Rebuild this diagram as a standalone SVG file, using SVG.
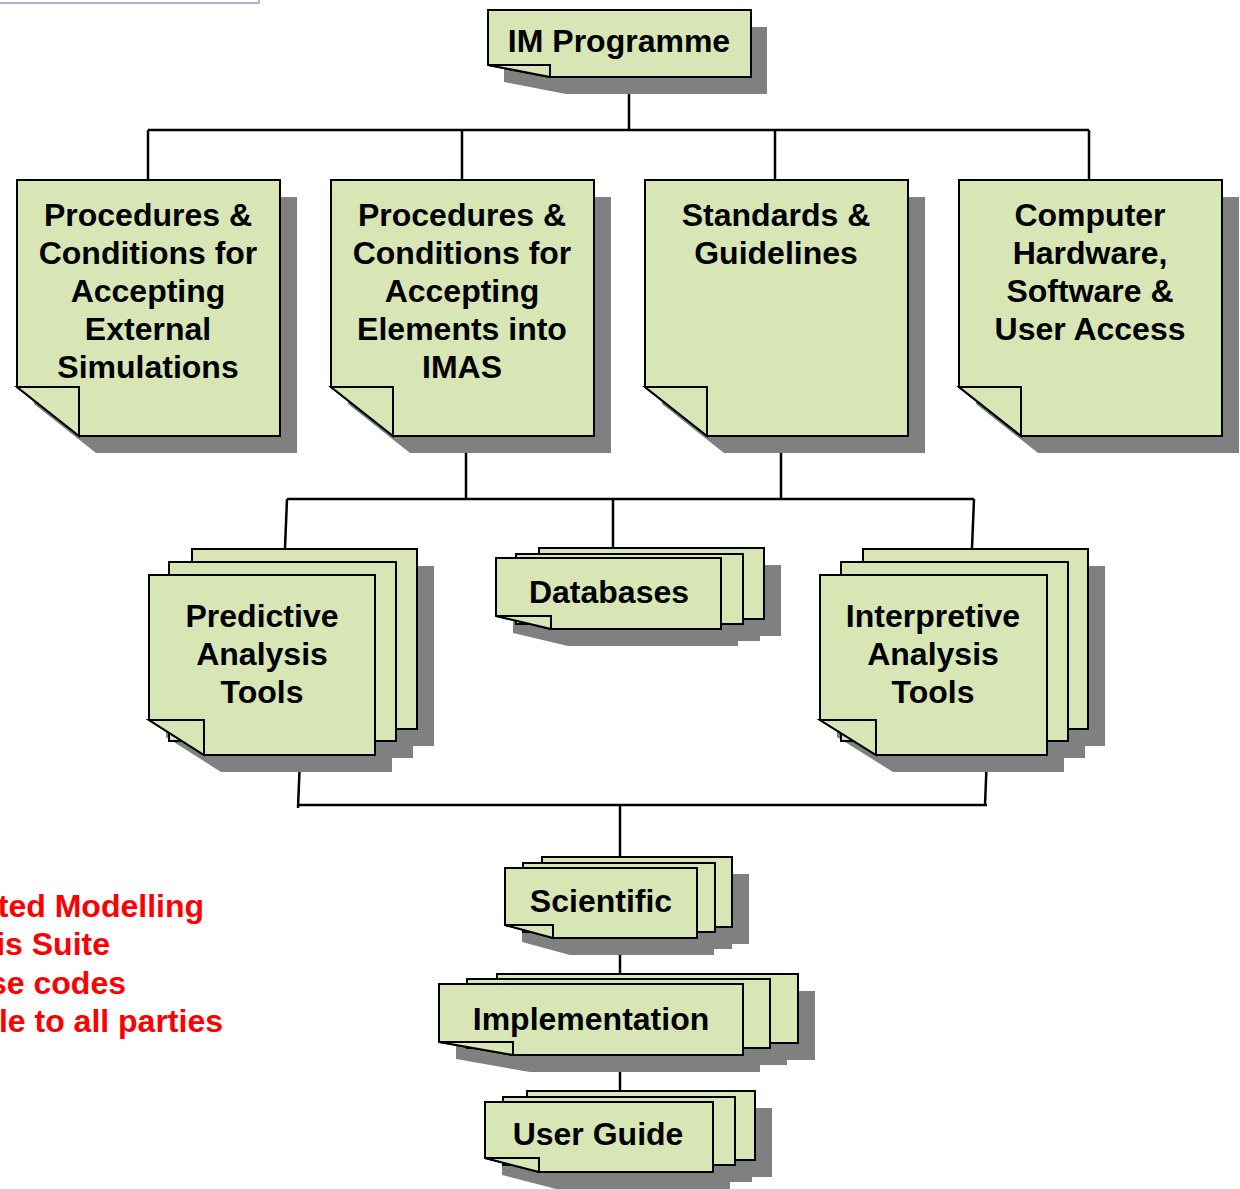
<svg xmlns="http://www.w3.org/2000/svg" width="1240" height="1189" viewBox="0 0 1240 1189">
<style>
.pg{fill:#D8E6B6;stroke:#000;stroke-width:2;stroke-linejoin:miter}
.sh{fill:#808080;stroke:none}
.cn{fill:none;stroke:#000;stroke-width:2.5}
.t{font-family:"Liberation Sans",Arial,sans-serif;font-weight:bold;font-size:32px;fill:#000;text-anchor:middle}
.r{font-family:"Liberation Sans",Arial,sans-serif;font-weight:bold;font-size:32px;fill:#FF0000;text-anchor:end}
</style>
<rect x="-3" y="-20" width="262" height="23" fill="#fff" stroke="#AEB4D2" stroke-width="2"/>
<g id="connectors">
<path class="cn" d="M629,77 V130 M148,130 H1089 M148,130 V180 M462,130 V180 M775,130 V180 M1089,130 V180"/>
<path class="cn" d="M466,436 V499 M781,436 V499 M287,499 H974 M287,499 L285,548 M613,499 V548 M974,499 L972,548"/>
<path class="cn" d="M300,758 L298,808 M298,805 H987 M987,755 L985,805 M620,805 V857"/>
<path class="cn" d="M620,938 V974 M620,1055 V1091"/>
</g>
<g id="im-programme">
<path class="sh" transform="translate(16,17)" d="M488,10 H751 V77 H550 L488,65 Z"/>
<path class="pg" d="M488,10 H751 V77 H550 L488,65 Z"/>
<path class="pg" d="M488,65 H550 V77 Z"/>
<text class="t" x="619" y="52">IM Programme</text>
</g>
<g id="proc-external">
<path class="sh" transform="translate(17,17)" d="M17,180 H280 V436 H79 L17,387 Z"/>
<path class="pg" d="M17,180 H280 V436 H79 L17,387 Z"/>
<path class="pg" d="M17,387 H79 V436 Z"/>
<text class="t" x="148" y="226">Procedures &amp;</text>
<text class="t" x="148" y="264">Conditions for</text>
<text class="t" x="148" y="302">Accepting</text>
<text class="t" x="148" y="340">External</text>
<text class="t" x="148" y="378">Simulations</text>
</g>
<g id="proc-imas">
<path class="sh" transform="translate(17,17)" d="M331,180 H594 V436 H393 L331,387 Z"/>
<path class="pg" d="M331,180 H594 V436 H393 L331,387 Z"/>
<path class="pg" d="M331,387 H393 V436 Z"/>
<text class="t" x="462" y="226">Procedures &amp;</text>
<text class="t" x="462" y="264">Conditions for</text>
<text class="t" x="462" y="302">Accepting</text>
<text class="t" x="462" y="340">Elements into</text>
<text class="t" x="462" y="378">IMAS</text>
</g>
<g id="standards">
<path class="sh" transform="translate(17,17)" d="M645,180 H908 V436 H707 L645,387 Z"/>
<path class="pg" d="M645,180 H908 V436 H707 L645,387 Z"/>
<path class="pg" d="M645,387 H707 V436 Z"/>
<text class="t" x="776" y="226">Standards &amp;</text>
<text class="t" x="776" y="264">Guidelines</text>
</g>
<g id="computer">
<path class="sh" transform="translate(17,17)" d="M959,180 H1222 V436 H1021 L959,387 Z"/>
<path class="pg" d="M959,180 H1222 V436 H1021 L959,387 Z"/>
<path class="pg" d="M959,387 H1021 V436 Z"/>
<text class="t" x="1090" y="226">Computer</text>
<text class="t" x="1090" y="264">Hardware,</text>
<text class="t" x="1090" y="302">Software &amp;</text>
<text class="t" x="1090" y="340">User Access</text>
</g>
<g id="predictive">
<g class="sh" transform="translate(17,17)">
<path d="M192,549 H417 V729 H247 L192,694 Z"/>
<path d="M169,562 H396 V741 H224 L169,706 Z"/>
<path d="M149,575 H375 V755 H204 L149,720 Z"/>
</g>
<rect class="pg" x="192" y="549" width="225" height="180"/>
<rect class="pg" x="169" y="562" width="227" height="179"/>
<path class="pg" d="M149,575 H375 V755 H204 L149,720 Z"/>
<path class="pg" d="M149,720 H204 V755 Z"/>
<text class="t" x="262" y="627">Predictive</text>
<text class="t" x="262" y="665">Analysis</text>
<text class="t" x="262" y="703">Tools</text>
</g>
<g id="databases">
<g class="sh" transform="translate(17,17)">
<path d="M539,548 H764 V619 H594 L539,606 Z"/>
<path d="M516,554 H743 V624 H571 L516,611 Z"/>
<path d="M496,558 H721 V629 H551 L496,616 Z"/>
</g>
<rect class="pg" x="539" y="548" width="225" height="71"/>
<rect class="pg" x="516" y="554" width="227" height="70"/>
<path class="pg" d="M496,558 H721 V629 H551 L496,616 Z"/>
<path class="pg" d="M496,616 H551 V629 Z"/>
<text class="t" x="609" y="603">Databases</text>
</g>
<g id="interpretive">
<g class="sh" transform="translate(17,17)">
<path d="M863,549 H1088 V729 H919 L863,694 Z"/>
<path d="M841,562 H1068 V741 H897 L841,706 Z"/>
<path d="M820,575 H1047 V755 H876 L820,720 Z"/>
</g>
<rect class="pg" x="863" y="549" width="225" height="180"/>
<rect class="pg" x="841" y="562" width="227" height="179"/>
<path class="pg" d="M820,575 H1047 V755 H876 L820,720 Z"/>
<path class="pg" d="M820,720 H876 V755 Z"/>
<text class="t" x="933" y="627">Interpretive</text>
<text class="t" x="933" y="665">Analysis</text>
<text class="t" x="933" y="703">Tools</text>
</g>
<g id="scientific">
<g class="sh" transform="translate(17,17)">
<path d="M542,857 H732 V927 H590 L542,914 Z"/>
<path d="M523,863 H715 V932 H571 L523,919 Z"/>
<path d="M505,868 H697 V938 H553 L505,925 Z"/>
</g>
<rect class="pg" x="542" y="857" width="190" height="70"/>
<rect class="pg" x="523" y="863" width="192" height="69"/>
<path class="pg" d="M505,868 H697 V938 H553 L505,925 Z"/>
<path class="pg" d="M505,925 H553 V938 Z"/>
<text class="t" x="601" y="912">Scientific</text>
</g>
<g id="implementation">
<g class="sh" transform="translate(17,17)">
<path d="M497,974 H798 V1043 H571 L497,1030 Z"/>
<path d="M467,979 H770 V1048 H541 L467,1035 Z"/>
<path d="M439,984 H743 V1055 H513 L439,1042 Z"/>
</g>
<rect class="pg" x="497" y="974" width="301" height="69"/>
<rect class="pg" x="467" y="979" width="303" height="69"/>
<path class="pg" d="M439,984 H743 V1055 H513 L439,1042 Z"/>
<path class="pg" d="M439,1042 H513 V1055 Z"/>
<text class="t" x="591" y="1030">Implementation</text>
</g>
<g id="user-guide">
<g class="sh" transform="translate(17,17)">
<path d="M527,1091 H755 V1160 H581 L527,1146 Z"/>
<path d="M503,1097 H735 V1165 H557 L503,1151 Z"/>
<path d="M485,1102 H713 V1172 H539 L485,1158 Z"/>
</g>
<rect class="pg" x="527" y="1091" width="228" height="69"/>
<rect class="pg" x="503" y="1097" width="232" height="68"/>
<path class="pg" d="M485,1102 H713 V1172 H539 L485,1158 Z"/>
<path class="pg" d="M485,1158 H539 V1172 Z"/>
<text class="t" x="598" y="1145">User Guide</text>
</g>
<g id="red-note">
<text class="r" x="204" y="917">ted Modelling</text>
<text class="r" x="110" y="955">is Suite</text>
<text class="r" x="126" y="994">se codes</text>
<text class="r" x="223" y="1032">le to all parties</text>
</g>
</svg>
